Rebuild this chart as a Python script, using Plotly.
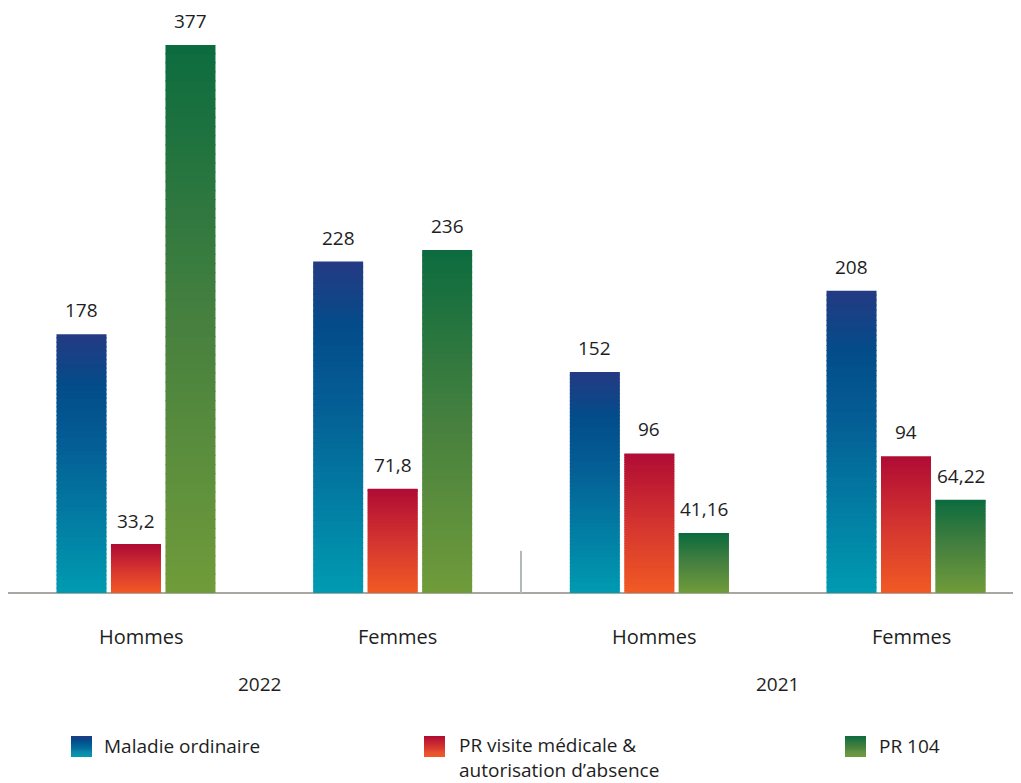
import plotly.graph_objects as go

categories = ["Hommes", "Femmes", "Hommes", "Femmes"]
years = ["2022", "2021"]
year_pos = [0.48, 2.5]
series_names = ["Maladie ordinaire", "PR visite médicale &<br>autorisation d’absence", "PR 104"]
maladie = [178, 228, 152, 208]
pr_visite = [33.2, 71.8, 96, 94]
pr_104 = [377, 236, 41.16, 64.22]
labels = [["178", "228", "152", "208"],
          ["33,2", "71,8", "96", "94"],
          ["377", "236", "41,16", "64,22"]]

gradients = [
    [(0.0, (0, 155, 177)), (0.55, (4, 96, 150)), (0.8, (3, 76, 138)), (1.0, (36, 58, 131))],
    [(0.0, (241, 90, 36)), (0.5, (212, 52, 48)), (1.0, (176, 11, 52))],
    [(0.0, (112, 155, 58)), (0.5, (70, 128, 63)), (1.0, (12, 108, 63))],
]

def interp(stops, t):
    for (t0, c0), (t1, c1) in zip(stops[:-1], stops[1:]):
        if t <= t1:
            f = (t - t0) / (t1 - t0) if t1 > t0 else 0
            return "rgb(%d,%d,%d)" % tuple(round(a + (b - a) * f) for a, b in zip(c0, c1))
    return "rgb(%d,%d,%d)" % stops[-1][1]

FONT = "Open Sans"
TXT = "#1e1e1e"
FS = 19
FS_W = 20
FS_L = 19
pitch = 0.2123
bw = 0.1948
xs = list(range(len(categories)))
N = 60

W, H = 1013, 775
ml, mr, mt, mb = 0, 0, 10, 190
pw, ph = W - ml - mr, H - mt - mb
YMAX = 395.57
overlap = 1.2 * YMAX / ph  # ~1 px overlap between gradient slices

fig = go.Figure()
for si, vals in enumerate([maladie, pr_visite, pr_104]):
    center = (si - 1) * pitch
    for k in range(N):
        col = interp(gradients[si], (k + 0.5) / N)
        extra = overlap if k < N - 1 else 0
        fig.add_trace(go.Bar(
            x=xs, y=[min(v / N + extra, v - v * k / N) for v in vals],
            base=[v * k / N for v in vals],
            width=bw, offset=center - bw / 2,
            marker=dict(color=col, line=dict(width=0)),
            showlegend=False, hoverinfo="skip"))
    for x, v, t in zip(xs, vals, labels[si]):
        fig.add_annotation(x=x + center, y=v, xref="x", yref="y", text=t, showarrow=False,
                           yanchor="bottom", yshift=9,
                           font=dict(family=FONT, size=FS, color=TXT))

def py2paper_y(py):
    return (H - mb - py) / ph
def px2paper_x(px):
    return (px - ml) / pw

# category & year labels
for x, c in zip(xs, categories):
    fig.add_annotation(x=x + 0.02, y=py2paper_y(628), xref="x", yref="paper", text=c, showarrow=False,
                       yanchor="middle", font=dict(family=FONT, size=FS_W, color=TXT))
for xp, yr in zip(year_pos, years):
    fig.add_annotation(x=xp, y=py2paper_y(676), xref="x", yref="paper", text=yr, showarrow=False,
                       yanchor="middle", font=dict(family=FONT, size=FS, color=TXT))

# divider between years
fig.add_shape(type="line", x0=1.5, x1=1.5, y0=0, y1=29, xref="x", yref="y",
              line=dict(color="#b3b8b8", width=2))

# legend
leg_x = [63, 416, 837]
leg_tx = [95, 450, 870]
for si in range(3):
    nseg = 20
    for k in range(nseg):
        y0 = 749 - 21 * k / nseg
        y1 = 749 - 21 * (k + 1) / nseg - 0.6
        col = interp(gradients[si], (k + 0.5) / nseg)
        fig.add_shape(type="rect", xref="paper", yref="paper",
                      x0=px2paper_x(leg_x[si]), x1=px2paper_x(leg_x[si] + 21),
                      y0=py2paper_y(y0), y1=py2paper_y(max(y1, 728)),
                      fillcolor=col, line=dict(width=0))
    multi = "<br>" in series_names[si]
    fig.add_annotation(xref="paper", yref="paper", x=px2paper_x(leg_tx[si]),
                       y=py2paper_y(739), xanchor="left", yanchor="top" if multi else "middle",
                       yshift=16 if multi else 1,
                       align="left", text=series_names[si], showarrow=False, borderpad=0,
                       font=dict(family=FONT, size=FS_L, color=TXT))

fig.update_layout(
    width=W, height=H, margin=dict(l=ml, r=mr, t=mt, b=mb),
    barmode="overlay", plot_bgcolor="white", paper_bgcolor="white",
    xaxis=dict(range=[-0.4986, 3.448], showticklabels=False, showgrid=False, zeroline=False,
               showline=False, ticks=""),
    yaxis=dict(range=[0, YMAX], showticklabels=False, showgrid=False, zeroline=True,
               zerolinecolor="#a8a8a2", zerolinewidth=2, showline=False, ticks=""),
    showlegend=False,
)
fig.write_html("out.html")
